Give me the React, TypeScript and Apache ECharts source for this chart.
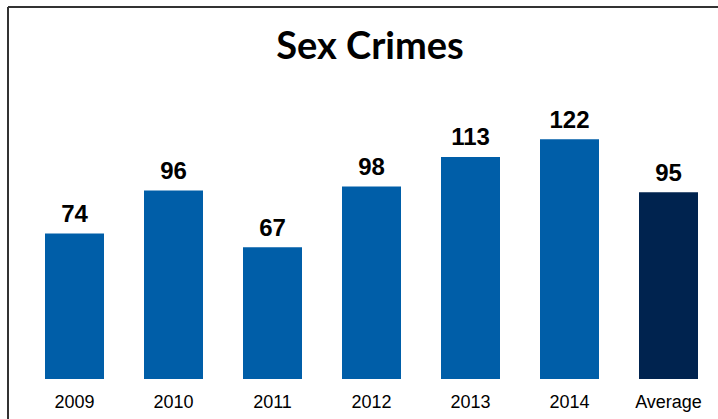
import React, { useEffect, useRef } from "react";
import * as echarts from "echarts";

const categories = ["2009", "2010", "2011", "2012", "2013", "2014", "Average"];
const values = [74, 96, 67, 98, 113, 122, 95];
const barColors = ["#005EA8", "#005EA8", "#005EA8", "#005EA8", "#005EA8", "#005EA8", "#00234F"];
const title = "Sex Crimes";

export default function App() {
  const ref = useRef<HTMLDivElement>(null);
  useEffect(() => {
    if (!ref.current) return;
    const chart = echarts.init(ref.current, null, { renderer: "svg" });
    chart.setOption({
      animation: false,
      backgroundColor: "#ffffff",
      title: {
        text: title,
        left: 365,
        textAlign: "center",
        top: 20,
        textStyle: { fontFamily: "Lato", fontWeight: "bold", fontSize: 38, color: "#000" },
      },
      graphic: [
        { type: "line", shape: { x1: 8, y1: 7, x2: 718, y2: 7 }, style: { stroke: "#333", lineWidth: 2 } },
        { type: "line", shape: { x1: 8, y1: 7, x2: 8, y2: 419 }, style: { stroke: "#333", lineWidth: 2 } },
      ],
      grid: { left: 25, top: 100, width: 702, height: 279 },
      xAxis: {
        type: "category",
        data: categories,
        axisLine: { show: false },
        axisTick: { show: false },
        axisLabel: {
          margin: 14,
          fontFamily: "Liberation Sans",
          fontSize: 18,
          color: "#000",
        },
      },
      yAxis: {
        type: "value",
        min: 0,
        max: 142,
        show: false,
        splitLine: { show: false },
      },
      series: [
        {
          type: "bar",
          barWidth: 59,
          data: values.map((v, i) => ({ value: v, itemStyle: { color: barColors[i] } })),
          label: {
            show: true,
            position: "top",
            distance: 8,
            fontFamily: "Liberation Sans",
            fontWeight: "bold",
            fontSize: 24,
            color: "#000",
          },
        },
      ],
    });
    return () => chart.dispose();
  }, []);
  return (
    <div
      ref={ref}
      style={{ position: "absolute", left: 0, top: 0, width: 718, height: 419 }}
    />
  );
}
